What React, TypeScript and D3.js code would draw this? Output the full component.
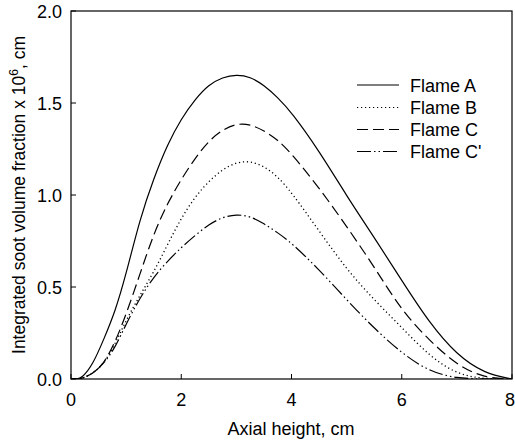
import React from "react";
import * as d3 from "d3";

const xs = [0, 0.1, 0.2, 0.4, 0.6, 0.8, 1.0, 1.25, 1.5, 1.75, 2.0, 2.25, 2.5, 2.75, 3.0, 3.25, 3.5, 3.75, 4.0, 4.5, 5.0, 5.5, 6.0, 6.5, 7.0, 7.5, 8.0];
const flameA = [0, 0, 0.005, 0.08, 0.22, 0.365, 0.57, 0.87, 1.09, 1.275, 1.415, 1.52, 1.6, 1.64, 1.655, 1.643, 1.597, 1.53, 1.45, 1.24, 0.995, 0.77, 0.535, 0.305, 0.13, 0.03, 0];
const flameB = [0, 0, 0.002, 0.03, 0.085, 0.19, 0.32, 0.455, 0.58, 0.73, 0.875, 0.99, 1.075, 1.14, 1.178, 1.185, 1.157, 1.1, 1.015, 0.805, 0.595, 0.43, 0.28, 0.125, 0.025, 0, 0];
const flameC = [0, 0, 0.002, 0.03, 0.085, 0.2, 0.35, 0.57, 0.79, 0.955, 1.085, 1.2, 1.295, 1.355, 1.388, 1.385, 1.35, 1.3, 1.225, 1.04, 0.83, 0.61, 0.37, 0.21, 0.075, 0.005, 0];
const flameCp = [0, 0, 0.002, 0.03, 0.085, 0.17, 0.3, 0.44, 0.555, 0.64, 0.715, 0.78, 0.84, 0.88, 0.895, 0.885, 0.845, 0.795, 0.74, 0.595, 0.43, 0.275, 0.14, 0.04, 0.003, 0, 0];
const seriesNames = ["Flame A", "Flame B", "Flame C", "Flame C'"];
const xTicks = [0, 2, 4, 6, 8];
const yTicks = [0, 0.5, 1.0, 1.5, 2.0];

const dashes = ["none", "1.2,2.8", "11,5", "14,3,1.5,3,1.5,3"];

export default function App() {
  const W = 515, H = 444;
  const x = d3.scaleLinear().domain([0, 8]).range([71, 512]);
  const y = d3.scaleLinear().domain([0, 2]).range([379, 11]);
  const line = d3
    .line<[number, number]>()
    .x((d) => x(d[0]))
    .y((d) => y(Math.max(0, d[1])))
    .curve(d3.curveBasis);
  const all = [flameA, flameB, flameC, flameCp];
  const font = "'Liberation Sans', Arial, sans-serif";
  const legendY = [85, 107.5, 129.5, 151.5];
  return (
    <svg width={W} height={H} style={{ position: "absolute", left: 0, top: 0, background: "#fff" }} fontFamily={font}>
      <rect x={0} y={0} width={W} height={H} fill="#fff" />
      <defs>
        <clipPath id="plotclip">
          <rect x={x(0)} y={y(2)} width={x(8) - x(0)} height={y(0) - y(2)} />
        </clipPath>
      </defs>
      <g clipPath="url(#plotclip)">
        {all.map((s, i) => (
          <path
            key={i}
            d={line(xs.map((v, j) => [v, s[j]] as [number, number])) || ""}
            fill="none"
            stroke="#000"
            strokeWidth={i === 1 ? 1.3 : 1.2}
            strokeDasharray={dashes[i]}
          />
        ))}
      </g>
      <rect x={x(0)} y={y(2)} width={x(8) - x(0)} height={y(0) - y(2)} fill="none" stroke="#000" strokeWidth={1.2} />
      {xTicks.map((t, i) => (
        <g key={"x" + t}>
          <line x1={x(t)} x2={x(t)} y1={y(0)} y2={y(0) - 5} stroke="#000" strokeWidth={1} />
          <text x={i === xTicks.length - 1 ? 515 : x(t)} y={406} fontSize={18} textAnchor={i === xTicks.length - 1 ? "end" : "middle"}>{t}</text>
        </g>
      ))}
      {yTicks.map((t) => (
        <g key={"y" + t}>
          <line x1={x(0)} x2={x(0) + 5} y1={y(t)} y2={y(t)} stroke="#000" strokeWidth={1} />
          <text x={62} y={y(t) + 6.5} fontSize={18} textAnchor="end">{t.toFixed(1)}</text>
        </g>
      ))}
      <text x={291} y={435} fontSize={18} textAnchor="middle">Axial height, cm</text>
      <text transform={`translate(25,195) rotate(-90)`} fontSize={17.5} textAnchor="middle">
        Integrated soot volume fraction x 10<tspan fontSize={12} dy={-7}>6</tspan><tspan dy={7}>, cm</tspan>
      </text>
      {seriesNames.map((n, i) => (
        <g key={n}>
          <line x1={357} x2={399} y1={legendY[i]} y2={legendY[i]} stroke="#000" strokeWidth={1.2} strokeDasharray={dashes[i]} />
          <text x={410} y={legendY[i] + 6.5} fontSize={18}>{n}</text>
        </g>
      ))}
    </svg>
  );
}
